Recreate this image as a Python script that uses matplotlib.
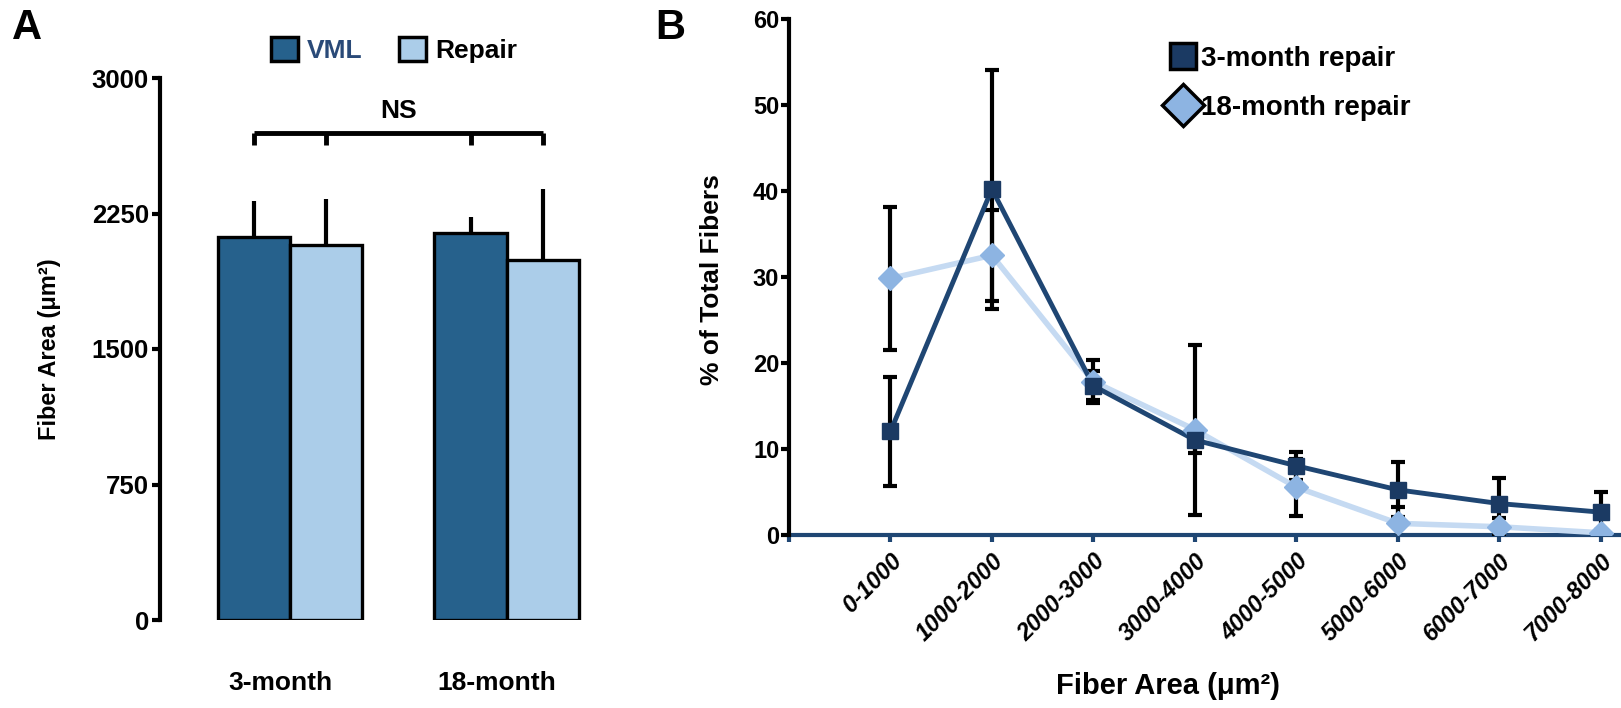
import numpy as np
import matplotlib
matplotlib.use("Agg")
import matplotlib.pyplot as plt
from matplotlib.patches import Patch
from matplotlib.lines import Line2D

plt.rcParams['font.family'] = ['Liberation Sans', 'DejaVu Sans']
plt.rcParams['font.weight'] = 'bold'

# panel A: mean fiber area
groups = ["3-month", "18-month"]
vml_mean = [2120, 2140]
vml_err = [200, 88]
repair_mean = [2078, 1990]
repair_err = [250, 395]
a_yticks = [0, 750, 1500, 2250, 3000]

# panel B: fiber size distribution
bins = ["0-1000", "1000-2000", "2000-3000", "3000-4000",
        "4000-5000", "5000-6000", "6000-7000", "7000-8000"]
m3_mean = [12.0, 40.2, 17.3, 11.0, 8.0, 5.2, 3.6, 2.6]
m3_err = [6.3, 13.9, 1.7, 1.5, 1.6, 3.2, 3.0, 2.4]
m18_mean = [29.8, 32.5, 17.8, 12.2, 5.5, 1.3, 0.9, 0.2]
m18_err = [8.3, 5.3, 2.5, 9.9, 3.3, 1.9, 1.0, 0.3]
b_yticks = [0, 10, 20, 30, 40, 50, 60]

VML_C = "#26618c"
REP_C = "#abcde9"
DARK = "#1b3a63"
LINE_D = "#1f4673"
LIGHT_M = "#8db4e2"
LIGHT_L = "#c5daf2"

fig = plt.figure(figsize=(16.21, 7.08), dpi=100)

# ---------------- panel A ----------------
axA = fig.add_axes([160/1621, 1-620/708, 440/1621, (620-78)/708])
x = np.arange(len(groups))
w = 0.334
axA.bar(x - w/2, vml_mean, w, color=VML_C, edgecolor="black", linewidth=2.4, zorder=3)
axA.bar(x + w/2, repair_mean, w, color=REP_C, edgecolor="black", linewidth=2.4, zorder=3)
axA.errorbar(x - w/2, vml_mean, yerr=[np.zeros(2), vml_err], fmt="none",
             ecolor="black", elinewidth=3, capsize=0, zorder=2)
axA.errorbar(x + w/2, repair_mean, yerr=[np.zeros(2), repair_err], fmt="none",
             ecolor="black", elinewidth=3, capsize=0, zorder=2)

# NS bracket
centers = [x[0] - w/2, x[0] + w/2, x[1] - w/2, x[1] + w/2]
axA.plot([centers[0], centers[-1]], [2695, 2695], color="black", lw=3.5,
         solid_capstyle="butt")
for c in centers:
    axA.plot([c, c], [2695, 2630], color="black", lw=3.5, solid_capstyle="butt")
axA.text(0.5, 2815, "NS", ha="center", va="center", fontsize=19, fontweight="bold")

axA.set_xlim(-0.6, 1.43)
axA.set_ylim(0, 3000)
axA.set_yticks(a_yticks)
axA.set_xticks(x - 0.045)
axA.set_xticklabels(groups, fontsize=19)
axA.tick_params(axis="x", length=0, pad=37)
axA.tick_params(axis="y", direction="out", length=6, width=3, labelsize=18.5, pad=2)
for s in ["top", "right", "bottom"]:
    axA.spines[s].set_visible(False)
axA.spines["left"].set_linewidth(3)
axA.set_ylabel("Fiber Area (\u03bcm\u00b2)", fontsize=17, fontweight="bold")
axA.yaxis.set_label_coords(-0.225, 0.5)

leg = axA.legend(handles=[Patch(facecolor=VML_C, edgecolor="black", linewidth=2.5, label="VML"),
                          Patch(facecolor=REP_C, edgecolor="black", linewidth=2.5, label="Repair")],
                 ncol=2, frameon=False, loc="center", bbox_to_anchor=(0.532, 1.052),
                 fontsize=19, handlelength=1.0, handleheight=1.0, handletextpad=0.35,
                 columnspacing=1.4)
leg.get_texts()[0].set_color("#2a4a78")

fig.text(12/1621, 1-28/708, "A", fontsize=30, fontweight="bold", va="center", ha="left")

# ---------------- panel B ----------------
axB = fig.add_axes([789/1621, 1-534.5/708, (1621-789)/1621, (534.5-19)/708])
xb = np.arange(1, len(bins) + 1)
axB.errorbar(xb, m3_mean, yerr=m3_err, fmt="none", ecolor="black",
             elinewidth=3, capsize=5, capthick=3, zorder=2)
axB.errorbar(xb, m18_mean, yerr=m18_err, fmt="none", ecolor="black",
             elinewidth=3, capsize=5, capthick=3, zorder=2)
axB.plot(xb, m18_mean, color=LIGHT_L, lw=4, zorder=3)
axB.plot(xb, m3_mean, color=LINE_D, lw=3.5, zorder=4)
axB.plot(xb, m18_mean, ls="none", marker="D", ms=12, color=LIGHT_M, zorder=5)
axB.plot(xb, m3_mean, ls="none", marker="s", ms=12, color=DARK, zorder=6)

axB.set_xlim(0, 8.2)
axB.set_ylim(0, 60)
axB.set_yticks(b_yticks)
axB.set_xticks(np.arange(0, len(bins) + 1))
axB.set_xticklabels([""] + bins, rotation=45, ha="right", va="top",
                    rotation_mode="anchor", fontsize=17, fontstyle="italic")
axB.tick_params(axis="x", direction="out", length=5, width=3, color=LINE_D, pad=6)
axB.tick_params(axis="y", direction="out", length=6, width=3, labelsize=17, pad=1)
for s in ["top", "right"]:
    axB.spines[s].set_visible(False)
axB.spines["left"].set_linewidth(3)
axB.spines["bottom"].set_linewidth(3)
axB.spines["bottom"].set_color(LINE_D)
axB.spines["bottom"].set_zorder(1)
axB.set_ylabel("% of Total Fibers", fontsize=19, fontweight="bold")
axB.yaxis.set_label_coords(-0.078, 0.495)
axB.set_xlabel("Fiber Area (\u03bcm\u00b2)", fontsize=21, fontweight="bold")
axB.xaxis.set_label_coords(0.455, -0.266)

legB = axB.legend(handles=[Line2D([], [], ls="none", marker="s", ms=19, mfc=DARK,
                                  mec="black", mew=2.5, label="3-month repair"),
                           Line2D([], [], ls="none", marker="D", ms=21, mfc=LIGHT_M,
                                  mec="black", mew=2.5, label="18-month repair")],
                  frameon=False, loc="upper left", bbox_to_anchor=(0.425, 0.997),
                  fontsize=20, handletextpad=0.1, labelspacing=0.85, handlelength=1.1)

fig.text(655/1621, 1-28/708, "B", fontsize=30, fontweight="bold", va="center", ha="left")

fig.savefig("out.png", dpi=100)
